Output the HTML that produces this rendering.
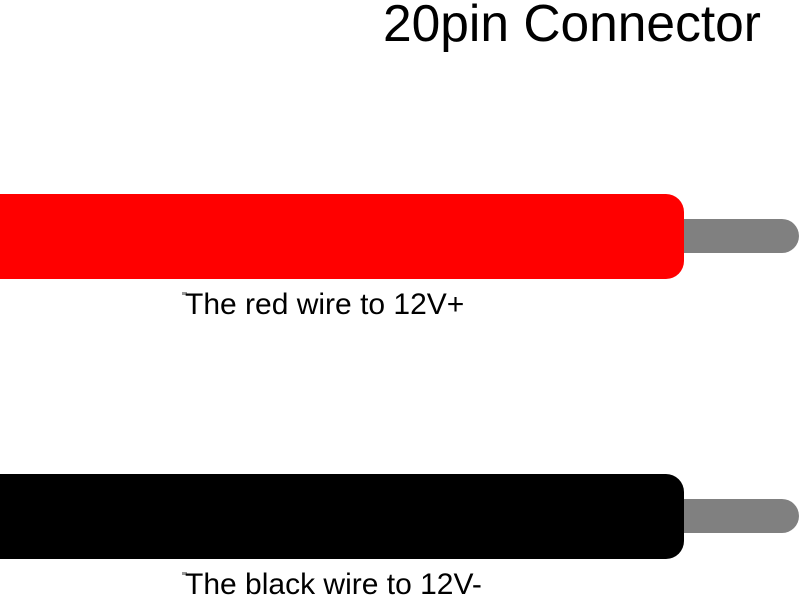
<!DOCTYPE html>
<html><head><style>
body{margin:0;width:800px;height:597px;background:#fff;position:relative;overflow:hidden;font-family:"Liberation Sans",Arial,sans-serif}
div{position:absolute}
.t{white-space:nowrap;color:#000}
</style></head><body>
<div class="t" style="left:383px;top:-6px;font-size:51.5px;line-height:58px">20pin Connector</div>
<div style="left:670px;top:219px;width:129px;height:34px;background:#808080;border-radius:0 17px 17px 0"></div>
<div style="left:-20px;top:194px;width:704px;height:85px;background:#ff0000;border-radius:18px"></div>
<div style="left:182px;top:292px;width:5px;height:3px;background:#999"></div>
<div class="t" style="left:185px;top:289px;font-size:30px;line-height:32px">The red wire to 12V+</div>
<div style="left:670px;top:499px;width:129px;height:34px;background:#808080;border-radius:0 17px 17px 0"></div>
<div style="left:-20px;top:474px;width:704px;height:85px;background:#000;border-radius:18px"></div>
<div style="left:182px;top:572px;width:5px;height:3px;background:#999"></div>
<div class="t" style="left:185px;top:569px;font-size:30px;line-height:32px">The black wire to 12V-</div>
</body></html>
